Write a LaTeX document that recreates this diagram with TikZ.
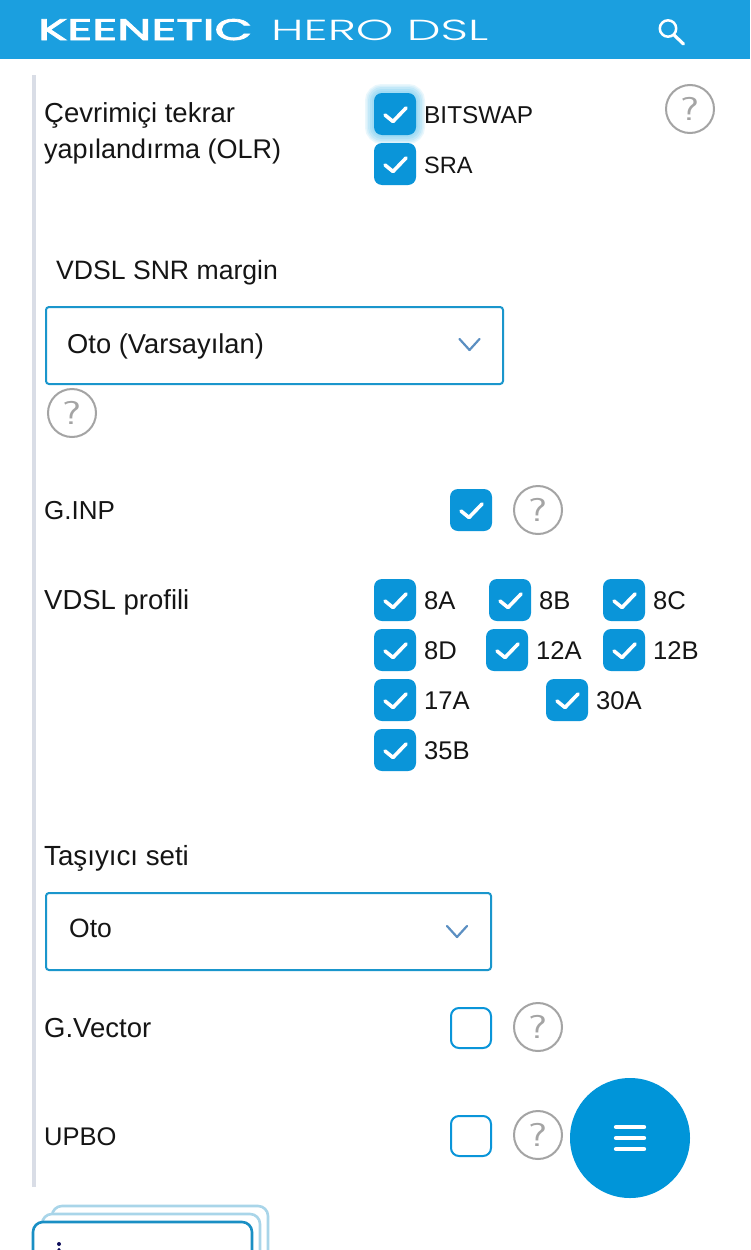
\documentclass[tikz,border=0pt]{standalone}
\usepackage{fontspec}
\usepackage{graphicx}
\setmainfont{Liberation Sans}
\newfontfamily\logofont[FakeBold=2.4]{Poppins}
\newfontfamily\modelfont[UprightFont=* Light]{Poppins}
\definecolor{hdr}{HTML}{1B9FDF}
\definecolor{kblue}{HTML}{0A95D9}
\definecolor{drop}{HTML}{1A96CC}
\definecolor{fab}{HTML}{0095D9}
\definecolor{bar}{HTML}{D9DDE6}
\definecolor{qgray}{HTML}{A4A4A4}
\definecolor{chev}{HTML}{5B8FC2}
\definecolor{txt}{HTML}{151515}
\definecolor{stackA}{HTML}{A9D5E9}
\definecolor{stackB}{HTML}{1A8FC4}
\definecolor{glow}{HTML}{8FD6F3}
\tikzset{
  lbl/.style={anchor=base west,inner sep=0pt,text=txt,font=\fontsize{27.5}{27}\selectfont},
  small/.style={lbl,font=\fontsize{25.6}{26}\selectfont},
  cbon/.style={draw=none,fill=kblue,rounded corners=8pt,minimum size=42pt,inner sep=0pt},
  cboff/.style={draw=kblue,line width=2pt,fill=white,rounded corners=8pt,minimum size=40pt,inner sep=0pt},
  tick/.style={draw=white,line width=3.6pt,line cap=round,line join=round},
  helpc/.style={circle,draw=qgray,line width=2pt,fill=white,minimum size=48pt,inner sep=0pt,text=qgray,font=\sffamily\fontsize{33}{33}\selectfont},
  dropbox/.style={draw=drop,line width=2pt,fill=white,rounded corners=3pt,inner sep=0pt,anchor=north west},
  chevline/.style={draw=chev,line width=2.2pt,line cap=round,line join=round},
  stackline/.style={line width=2.6pt,rounded corners=10pt}
}
\newcommand{\qm}{\scalebox{1.3}[1]{?}}
\newcommand{\tickon}[1]{\draw[tick] ([shift={(-10,1)}]#1.center) -- ([shift={(-2,7.5)}]#1.center) -- ([shift={(11,-6)}]#1.center);}
% \cbx{name}{cx}{cy}{label}{style}
\newcommand{\cbx}[5][small]{%
  \node[cbon] (#2) at (#3,#4) {};
  \tickon{#2}
  \node[#1] (#2l) at (#3+29,#4+9) {#5};
}
\begin{document}
\begin{tikzpicture}[x=1pt,y=-1pt]
\useasboundingbox (0,0) rectangle (750,1250);
\fill[white] (0,0) rectangle (750,1250);
% header
\fill[hdr] (0,0) rectangle (750,59);
\node[anchor=base west,inner sep=0pt,text=white,font=\logofont\fontsize{25}{25}\selectfont] (brand) at (38,40) {\resizebox{214pt}{21pt}{KEENETIC}};
\node[anchor=base west,inner sep=0pt,text=white,font=\modelfont\fontsize{25}{25}\selectfont] (model) at (271,40) {\resizebox{217pt}{20.5pt}{HERO DSL}};
\draw[white,line width=2.5pt] (668,28.5) circle (8.2pt);
\draw[white,line width=3.2pt,line cap=round] (674,35) -- (683.5,44);
% left bar
\fill[bar] (32,75) rectangle (36,1187);
% OLR
\node[lbl] (olr1) at (44,122) {Çevrimiçi tekrar};
\node[lbl,font=\fontsize{27}{27}\selectfont] (olr2) at (44,158) {yapılandırma (OLR)};
\foreach \w/\o in {18/0.18,15/0.22,12/0.28,8/0.35,4/0.4}
  \draw[glow,line width=\w pt,opacity=\o,rounded corners=8pt] (374,93) rectangle (416,135);
\cbx[lbl,font=\fontsize{24.4}{26}\selectfont]{bitswap}{395}{114}{BITSWAP}
\cbx[lbl,font=\fontsize{23.6}{26}\selectfont]{sra}{395}{164}{SRA}
\node[helpc] (h1) at (690,109) {\qm};
% SNR
\node[lbl,font=\fontsize{26.6}{27}\selectfont] (snr) at (56,279) {VDSL SNR margin};
\node[dropbox,minimum width=457pt,minimum height=77pt] (dd1) at (45,306) {};
\node[lbl,font=\fontsize{27.3}{27}\selectfont] (dd1t) at (67,353) {Oto (Varsayılan)};
\coordinate (c1a) at (459.5,339);
\coordinate (c1b) at (469.5,350);
\coordinate (c1c) at (479.5,339);
\draw[chevline] (c1a) -- (c1b) -- (c1c);
\node[helpc] (h2) at (72,413) {\qm};
% GINP
\node[lbl,font=\fontsize{26}{27}\selectfont] (ginp) at (44,519) {G.INP};
\node[cbon] (ginpb) at (471,510) {};
\tickon{ginpb}
\node[helpc] (h3) at (538,510) {\qm};
% profile
\node[lbl] (prof) at (44,609) {VDSL profili};
\cbx{a8}{395}{600}{8A}
\cbx{b8}{510}{600}{8B}
\cbx{c8}{624}{600}{8C}
\cbx{d8}{395}{650}{8D}
\cbx{a12}{507}{650}{12A}
\cbx{b12}{624}{650}{12B}
\cbx{a17}{395}{700}{17A}
\cbx{a30}{567}{700}{30A}
\cbx{b35}{395}{750}{35B}
% carrier
\node[lbl,font=\fontsize{27.7}{27}\selectfont] (tas) at (44,865) {Taşıyıcı seti};
\node[dropbox,minimum width=445pt,minimum height=77pt] (dd2) at (45,892) {};
\node[lbl,font=\fontsize{26.5}{27}\selectfont] (dd2t) at (69,937) {Oto};
\coordinate (c2a) at (447,926);
\coordinate (c2b) at (457,937);
\coordinate (c2c) at (467,926);
\draw[chevline] (c2a) -- (c2b) -- (c2c);
% vector
\node[lbl] (gv) at (44,1037) {G.Vector};
\node[cboff] (gvb) at (471,1028) {};
\node[helpc] (h4) at (538,1027) {\qm};
% upbo
\node[lbl,font=\fontsize{25.5}{27}\selectfont] (up) at (44,1145) {UPBO};
\node[cboff] (upb) at (471,1136) {};
\node[helpc] (h5) at (538,1135) {\qm};
% fab
\node[circle,fill=fab,minimum size=120pt,inner sep=0pt] (fabn) at (630,1138) {};
\foreach \d in {-11,0,11}
  \draw[white,line width=4.4pt,line cap=round] ([shift={(-14,\d)}]fabn.center) -- ([shift={(14,\d)}]fabn.center);
% stacked cards
\draw[stackA,stackline] (52,1262) -- (52,1206) -- (268,1206) -- (268,1262);
\draw[stackA,stackline,fill=white] (42,1262) -- (42,1214) -- (260,1214) -- (260,1262);
\draw[stackB,stackline,fill=white] (33,1264) -- (33,1222) -- (252,1222) -- (252,1264);
\fill[txt!70!blue] (59,1244) circle (2pt) (59,1249.5) circle (1.6pt);
\end{tikzpicture}
\end{document}
